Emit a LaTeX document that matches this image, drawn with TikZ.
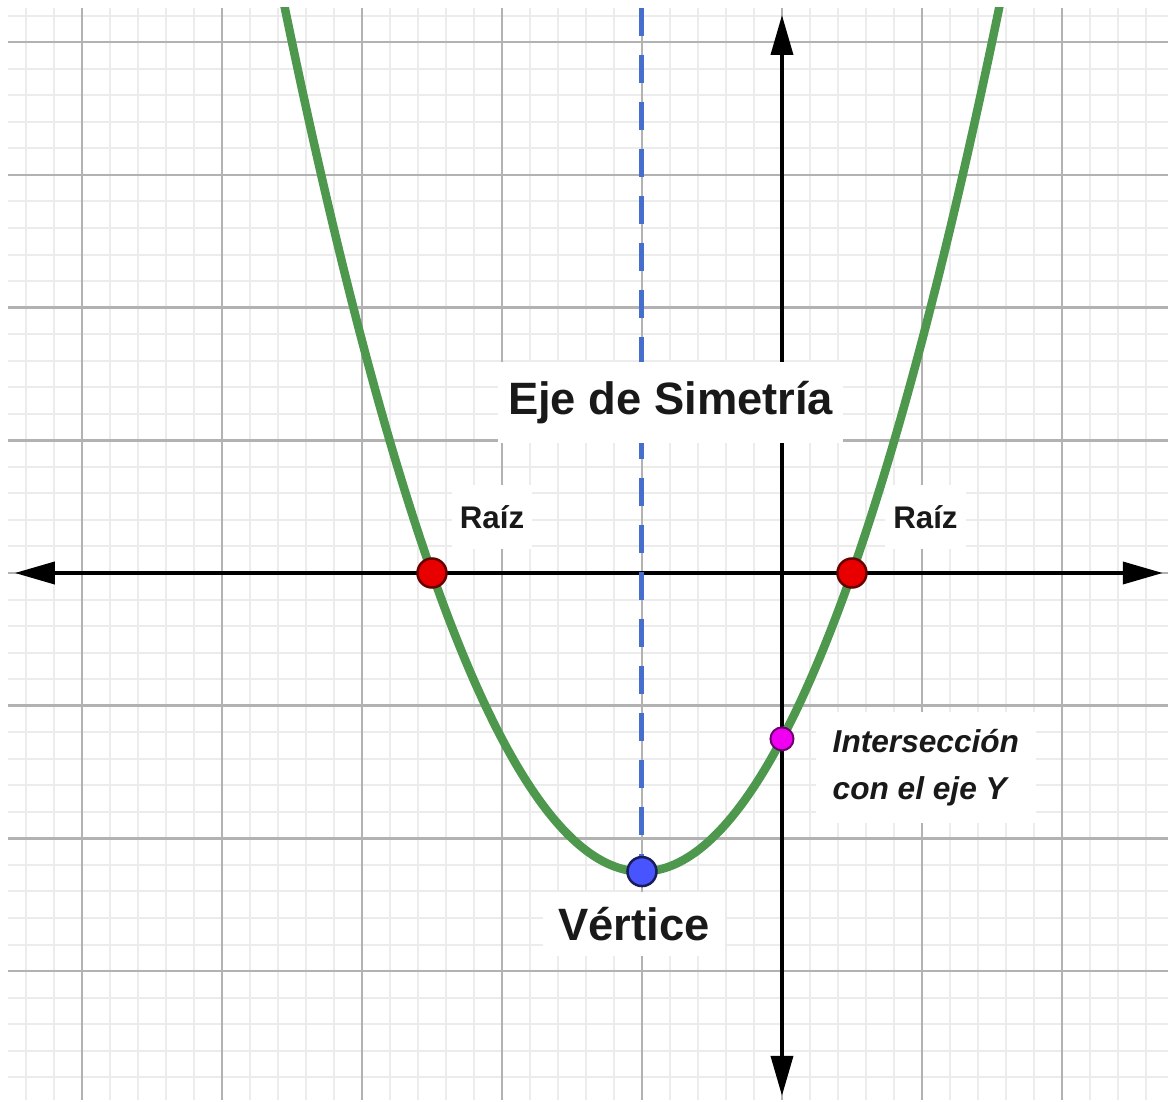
\documentclass[tikz,border=0pt]{standalone}
\usepackage{fontspec}
\setmainfont{Liberation Sans}
\usetikzlibrary{arrows.meta, positioning, calc}
\definecolor{curvegreen}{RGB}{78, 152, 78}
\definecolor{symblue}{RGB}{70, 110, 205}
\definecolor{gridmajor}{RGB}{178, 178, 178}
\definecolor{gridminor}{RGB}{236, 236, 236}
\definecolor{rootred}{RGB}{232, 0, 0}
\definecolor{vertexblue}{RGB}{72, 84, 255}
\definecolor{cutmagenta}{RGB}{240, 0, 240}
\definecolor{labeltext}{RGB}{25, 25, 25}

\begin{document}
\begin{tikzpicture}[
  x=1.4cm, y=1.327cm,
  minorline/.style={gridminor, line width=0.02cm},
  majorline/.style={gridmajor, line width=0.025cm},
  axisline/.style={black, line width=0.038cm,
                   {Triangle[length=0.4cm, width=0.22cm]}-{Triangle[length=0.4cm, width=0.22cm]}},
  symline/.style={symblue, line width=0.05cm, dash pattern=on 0.28cm off 0.19cm},
  curve/.style={curvegreen, line width=0.085cm},
  rootpt/.style={circle, fill=rootred, draw=rootred!45!black, line width=0.025cm,
                 minimum size=0.29cm, inner sep=0pt},
  vertexpt/.style={circle, fill=vertexblue, draw=vertexblue!35!black, line width=0.025cm,
                   minimum size=0.29cm, inner sep=0pt},
  cutpt/.style={circle, fill=cutmagenta, draw=cutmagenta!45!black, line width=0.02cm,
                minimum size=0.23cm, inner sep=0pt},
  lbl/.style={fill=white, text=labeltext, inner sep=0.1cm},
  biglbl/.style={lbl, font=\bfseries\fontsize{12.9}{15}\selectfont},
  smalllbl/.style={lbl, font=\bfseries\fontsize{8.9}{11}\selectfont, inner xsep=0.08cm, inner ysep=0.2cm}
]
\useasboundingbox (-5.5857,-3.979) rectangle (2.7786,4.318);

% grid
\foreach \i in {-27,...,13} \draw[minorline] (\i/5,-3.971) -- (\i/5,4.258);
\foreach \j in {-19,...,21} \draw[minorline] (-5.529,\j/5) -- (2.757,\j/5);
\foreach \i in {-5,...,2} \draw[majorline] (\i,-3.971) -- (\i,4.258);
\foreach \j in {-3,...,4} \draw[majorline] (-5.529,\j) -- (2.757,\j);

% axes
\coordinate (xleft) at (-5.48,0);
\coordinate (xright) at (2.72,0);
\coordinate (ytop) at (0,4.205);
\coordinate (ybottom) at (0,-3.94);
\draw[axisline] (xleft) -- (xright);
\draw[axisline] (ybottom) -- (ytop);

% symmetry axis
\coordinate (V) at (-1,-2.25);
\coordinate (symtop) at (-1,4.26);
\draw[symline] (symtop) -- (V);

% labels
\node[biglbl, minimum width=3.38cm, minimum height=0.81cm] (ejelbl) at (-0.795,1.285) {Eje de Simetría};
\node[smalllbl] (raizL) at (-2.071,0.422) {Raíz};
\node[smalllbl] (raizR) at (1.025,0.422) {Raíz};
\node[lbl, font=\bfseries\itshape\fontsize{9}{13.4}\selectfont, align=left, anchor=west,
      inner sep=0.17cm] (cutlbl) at (0.236,-1.466) {Intersección\\con el eje Y};
\node[biglbl, inner sep=0.15cm] (vertlbl) at (-1.057,-2.645) {Vértice};

% parabola
\begin{scope}
\clip (-5.529,-3.971) rectangle (2.757,4.258);
\draw[curve] plot[domain=-3.6:1.6, samples=150, smooth] (\x,{\x*\x+2*\x-1.25});
\end{scope}

% points
\node[rootpt] (rootL) at (-2.5,0) {};
\node[rootpt] (rootR) at (0.5,0) {};
\node[cutpt] (yint) at (0,-1.25) {};
\node[vertexpt] (vertex) at (V) {};
\end{tikzpicture}
\end{document}
